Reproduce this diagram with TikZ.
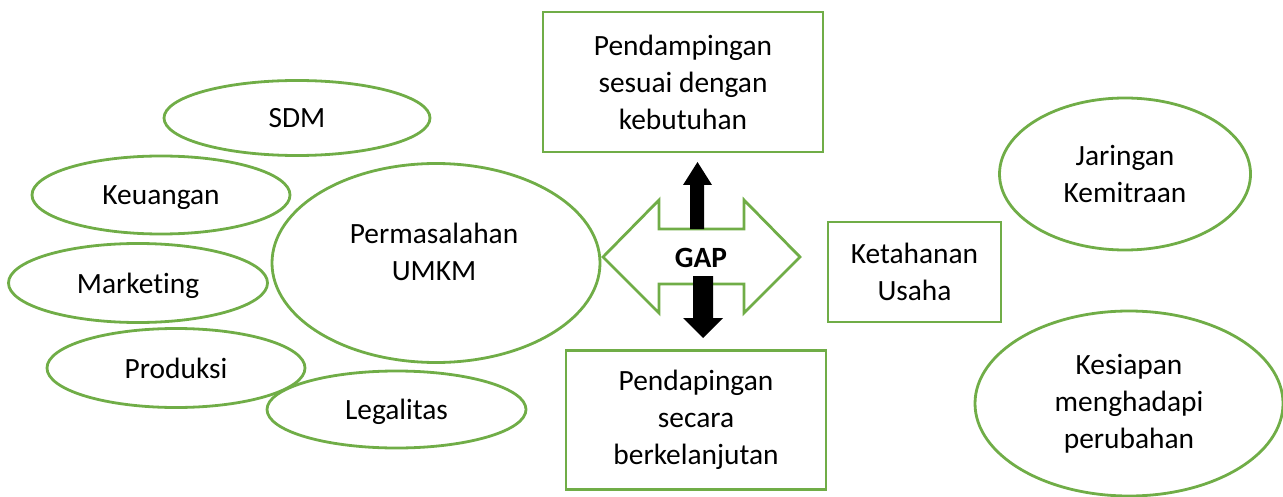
\documentclass[tikz,border=0pt]{standalone}
\usepackage{fontspec}
\setmainfont{Carlito}[RawFeature=-liga]
\usetikzlibrary{shapes.geometric}
\definecolor{hijau}{HTML}{70AD47}
\tikzset{oval/.style = {draw = hijau, line width = 1.4pt, ellipse, inner sep = 0, align = center,
                        font = \fontsize{14.7}{18.5}\selectfont}}
\tikzset{ovalsatu/.style = {oval, text height = 12.5pt, text depth = 2.5pt}}
\tikzset{kotak/.style = {draw = hijau, line width = 1.4pt, rectangle, inner sep = 0, align = center,
                         font = \fontsize{14.7}{18.5}\selectfont}}
\tikzset{teks/.style = {inner sep = 0, align = center, font = \fontsize{14.7}{18.5}\selectfont}}

\begin{document}
\begin{tikzpicture}[x = 0.5pt, y = -0.5pt]
    \useasboundingbox (0, 0) rectangle (1283, 497);
    % faktor permasalahan
    \node (sdm) at (297, 118) [ovalsatu, minimum width = 133pt, minimum height = 37.5pt] {SDM};
    \node (keuangan) at (161, 195) [ovalsatu, minimum width = 129pt, minimum height = 39pt] {Keuangan};
    \node (marketing) at (138, 283) [ovalsatu, minimum width = 129.5pt, minimum height = 39.5pt] {Marketing};
    \node (produksi) at (176, 368) [ovalsatu, minimum width = 129pt, minimum height = 39.5pt] {Produksi};
    \node (legalitas) at (396.5, 409.5) [ovalsatu, minimum width = 129.5pt, minimum height = 38.5pt] {Legalitas};
    \node (umkm) at (436, 263) [oval, minimum width = 164pt, minimum height = 99.5pt] {};
    \node (umkmteks) at (434, 252) [teks] {Permasalahan\\UMKM};
    % pendampingan
    \node (atas) at (683, 82) [kotak, minimum width = 140pt, minimum height = 70pt] {Pendampingan\\sesuai dengan\\kebutuhan};
    \node (bawah) at (696, 420) [kotak, minimum width = 130pt, minimum height = 69.5pt] {Pendapingan\\secara\\berkelanjutan};
    % hasil
    \node (ketahanan) at (914.5, 272) [kotak, minimum width = 86.5pt, minimum height = 50pt] {Ketahanan\\Usaha};
    \node (jaringan) at (1125, 174) [oval, minimum width = 125.5pt, minimum height = 76pt] {Jaringan\\Kemitraan};
    \node (kesiapan) at (1129, 403.5) [oval, minimum width = 154pt, minimum height = 92.5pt] {Kesiapan\\menghadapi\\perubahan};
    % panah GAP
    \draw [hijau, line width = 1.4pt, line join = miter]
      (603, 257) -- (659, 200) -- (659, 229) -- (744, 229) -- (744, 200) -- (800, 257)
      -- (744, 313) -- (744, 284) -- (659, 284) -- (659, 313) -- cycle;
    \fill (690, 229) -- (690, 185) -- (683, 185) -- (697.5, 162) -- (712, 185) -- (704, 185) -- (704, 229) -- cycle;
    \fill (693, 276) -- (693, 318) -- (683, 318) -- (703, 338) -- (723, 318) -- (713, 318) -- (713, 276) -- cycle;
    \node (gap) at (701, 258) [teks] {\textbf{GAP}};
  \end{tikzpicture}
\end{document}
